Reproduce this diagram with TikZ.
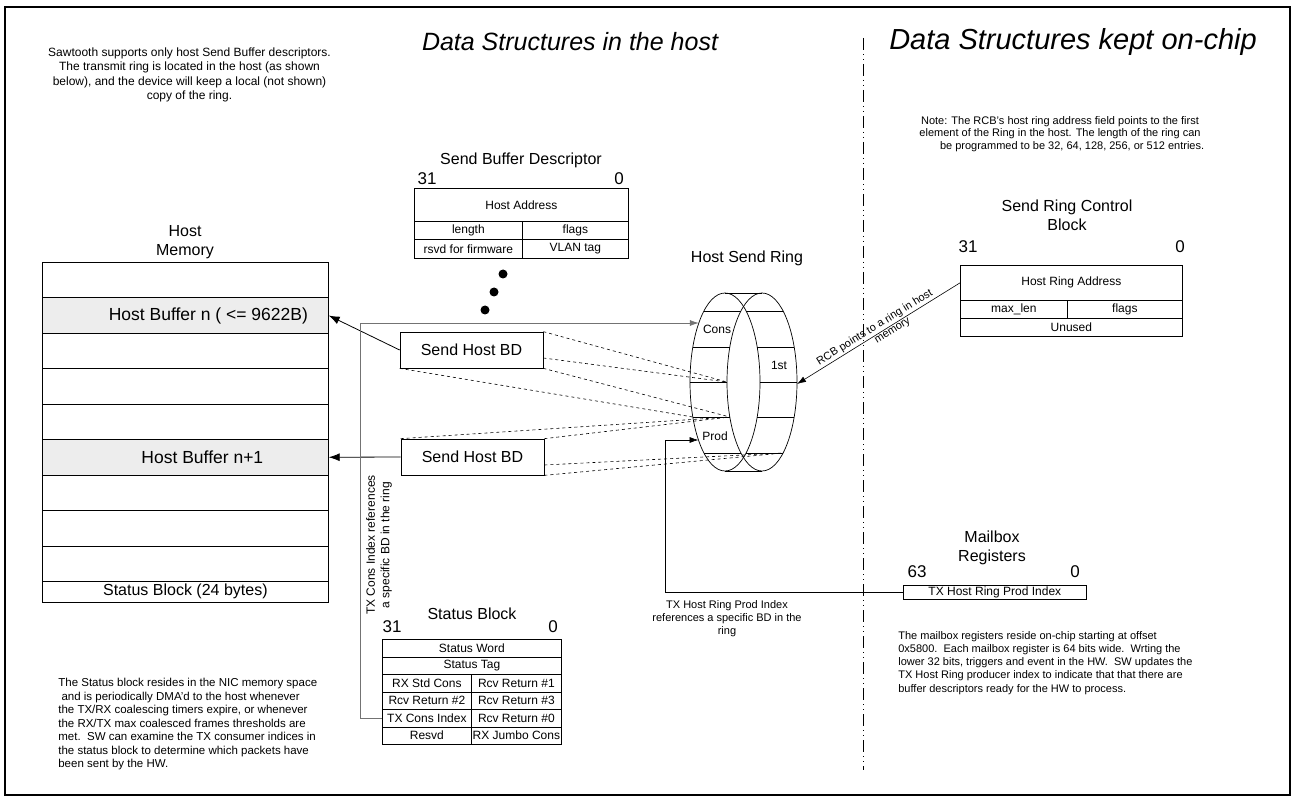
\documentclass[tikz,border=0pt]{standalone}
\usepackage{fontspec}
\setmainfont{Liberation Sans}
\usetikzlibrary{arrows.meta, calc}

\begin{document}
\begin{tikzpicture}[x=1pt, y=-1pt, line width=0.7pt,
    every node/.style={inner sep=0pt},
    notetext/.style={font=\fontsize{11.5}{13.5}\selectfont},
    headtext/.style={font=\fontsize{16}{19}\selectfont, align=center},
    bigtitle/.style={font=\fontsize{27}{30}\selectfont\itshape},
    bitnum/.style={font=\fontsize{17}{19}\selectfont},
    tabcell/.style={draw, anchor=north west, font=\fontsize{12}{14}\selectfont},
    memrow/.style={draw, anchor=north west, minimum width=286, minimum height=35.44},
    bdbox/.style={draw, minimum width=143, minimum height=36, font=\fontsize{16}{18}\selectfont},
    bdlink/.style={dashed, line width=0.6pt},
    toring/.style={-{Latex[length=9pt,width=6pt]}, line width=0.6pt},
    tobuf/.style={-{Latex[length=11pt,width=8pt]}, line width=0.8pt}]
  \useasboundingbox (0,0) rectangle (1296,802);
  \draw[line width=2pt] (5,7) rectangle (1290,795);

  % titles and the host / chip divider
  \node[bigtitle, font=\fontsize{25}{28}\selectfont\itshape] (hosttitle) at (570,42) {Data Structures in the host};
  \node[bigtitle, font=\fontsize{29}{32}\selectfont\itshape] (chiptitle) at (1073,42) {Data Structures kept on-chip};
  \draw[line width=0.6pt, dash pattern=on 12pt off 4pt on 1pt off 4pt on 1pt off 4pt] (863,38) -- (863,770);

  % notes
  \node[notetext, align=center, font=\fontsize{12}{14.5}\selectfont] (notesaw) at (189.5,75) {Sawtooth supports only host Send Buffer descriptors.\\The transmit ring is located in the host (as shown\\below), and the device will keep a local (not shown)\\copy of the ring.};
  \node[notetext, align=center, font=\fontsize{11}{12.5}\selectfont] (notercb) at (1060,134) {Note: The RCB's host ring address field points to the first\\element of the Ring in the host. The length of the ring can\\\hspace*{2.2em}be programmed to be 32, 64, 128, 256, or 512 entries.};
  \node[notetext, align=left, anchor=north west] (notestatus) at (58,678) {The Status block resides in the NIC memory space\\\ and is periodically DMA'd to the host whenever\\the TX/RX coalescing timers expire, or whenever\\the RX/TX max coalesced frames thresholds are\\met.\ \ SW can examine the TX consumer indices in\\the status block to determine which packets have\\been sent by the HW.};
  \node[notetext, align=left, anchor=north west, font=\fontsize{11}{13.2}\selectfont] (notemb) at (898,631) {The mailbox registers reside on-chip starting at offset\\0x5800.\ \ Each mailbox register is 64 bits wide.\ \ Wrting the\\lower 32 bits, triggers and event in the HW.\ \ SW updates the\\TX Host Ring producer index to indicate that that there are\\buffer descriptors ready for the HW to process.};
  \node[notetext, align=center, font=\fontsize{11}{13}\selectfont] (noteprod) at (727,619) {TX Host Ring Prod Index\\references a specific BD in the\\ring};

  % host memory
  \node[headtext] (memtitle) at (185,242) {Host\\Memory};
  \foreach \i/\f in {1/white,2/black!7,3/white,4/white,5/white,6/black!7,7/white,8/white,9/white}
    \node[memrow, fill=\f] (mem\i) at (42,{262+35.44*(\i-1)}) {};
  \node[memrow, minimum height=21, font=\fontsize{16}{18}\selectfont] (memstatus) at (42,581) {Status Block (24 bytes)};
  \node[font=\fontsize{17.5}{20}\selectfont, xshift=23pt] (bufn) at (mem2) {Host Buffer n ( <= 9622B)};
  \node[font=\fontsize{17.5}{20}\selectfont, xshift=17pt] (bufnext) at (mem6) {Host Buffer n+1};

  % send buffer descriptor
  \node[headtext] (sbdtitle) at (521,160) {Send Buffer Descriptor};
  \node[bitnum] (sbdhi) at (427,179) {31};
  \node[bitnum] (sbdlo) at (619,179) {0};
  \node[tabcell, minimum width=214, minimum height=33] (sbdaddr) at (414,188) {Host Address};
  \node[tabcell, minimum width=108, minimum height=18] (sbdlen) at (414,221) {length};
  \node[tabcell, minimum width=106, minimum height=18] (sbdflags) at (522,221) {flags};
  \node[tabcell, minimum width=108, minimum height=19] (sbdrsvd) at (414,239) {rsvd for firmware};
  \node[tabcell, minimum width=106, minimum height=19] (sbdvlan) at (522,239) {VLAN tag};
  \foreach \p in {(503,274),(494,292),(485,310)}
    \fill \p circle (4.5pt);

  % send host BDs
  \node[bdbox] (bd1) at (471.5,350) {Send Host BD};
  \node[bdbox] (bd2) at (472.5,457) {Send Host BD};
  \draw[tobuf] (bd1.west) -- (mem2.east);
  \draw[tobuf] (bd2.west) -- (mem6.east);

  % host send ring
  \node[headtext] (ringtitle) at (747,258) {Host Send Ring};
  \draw (725,382) ellipse [x radius=35pt, y radius=89pt];
  \draw (762,382) ellipse [x radius=35pt, y radius=89pt];
  \draw (725,293) -- (762,293);
  \draw (725,471) -- (762,471);
  \foreach \y in {311,347,382,417,453} {
    \pgfmathsetmacro\w{35*sqrt(1-((\y-382)/89)^2)}
    \coordinate (lo\y) at ({725-\w},\y);
    \coordinate (li\y) at ({762-\w},\y);
    \coordinate (ri\y) at ({725+\w},\y);
    \coordinate (ro\y) at ({762+\w},\y);
    \draw (lo\y) -- (li\y);
    \draw (ri\y) -- (ro\y);
  }
  \node[font=\fontsize{12}{14}\selectfont] (slotcons) at (717,329) {Cons};
  \node[font=\fontsize{12}{14}\selectfont] (slotfirst) at (779,365) {1st};
  \node[font=\fontsize{12}{14}\selectfont] (slotprod) at (715,436) {Prod};
  \coordinate (ringcons) at (698.8,323);
  \coordinate (ringprod) at (698.5,440);
  \coordinate (ringrcb) at (797,384);

  \draw[bdlink] (bd1.north east) -- (li382);
  \draw[bdlink] ([yshift=-8pt]bd1.east) -- (li382);
  \draw[bdlink] (bd1.south east) -- (li417);
  \draw[bdlink] (bd1.south west) -- (lo417);
  \draw[bdlink] (bd2.north west) -- (li417);
  \draw[bdlink] (bd2.north east) -- (li417);
  \draw[bdlink] ([yshift=-8pt]bd2.east) -- (ro453);
  \draw[bdlink] (bd2.south east) -- (ro453);

  % send ring control block
  \node[headtext] (rcbtitle) at (1067,215) {Send Ring Control\\Block};
  \node[bitnum] (rcbhi) at (968,247) {31};
  \node[bitnum] (rcblo) at (1180,247) {0};
  \node[tabcell, minimum width=222, minimum height=35] (rcbaddr) at (960,265) {Host Ring Address};
  \node[tabcell, minimum width=107, minimum height=18] (rcblen) at (960,300) {max\_len};
  \node[tabcell, minimum width=115, minimum height=18] (rcbflags) at (1067,300) {flags};
  \node[tabcell, minimum width=222, minimum height=18] (rcbunused) at (960,318) {Unused};
  \draw[toring] (rcbaddr.west) -- (ringrcb)
    node[pos=0.5, sloped, above=1.5pt, font=\fontsize{11}{13}\selectfont] (rcbnote) {RCB points to a ring in host}
    node[pos=0.43, sloped, below=1.5pt, font=\fontsize{11}{13}\selectfont] (rcbnotemem) {memory};

  % mailbox registers
  \node[headtext] (mbtitle) at (992,548) {Mailbox\\Registers};
  \node[bitnum] (mbhi) at (917,572) {63};
  \node[bitnum] (mblo) at (1075,572) {0};
  \node[tabcell, minimum width=183, minimum height=14] (mbprod) at (903,585) {TX Host Ring Prod Index};
  \coordinate (prodbend) at (665,440);
  \draw[toring] (mbprod.west) -| (prodbend) -- (ringprod);

  % status block
  \node[headtext] (sbtitle) at (472,614) {Status Block};
  \node[bitnum] (sbhi) at (392,627) {31};
  \node[bitnum] (sblo) at (553,627) {0};
  \node[tabcell, minimum width=179, minimum height=17.5] (sbword) at (382,639) {Status Word};
  \node[tabcell, minimum width=179, minimum height=17.5] (sbtag) at (382,656.5) {Status Tag};
  \foreach \lt/\rt [count=\k] in {{RX Std Cons}/{Rcv Return \#1},{Rcv Return \#2}/{Rcv Return \#3},{TX Cons Index}/{Rcv Return \#0},{Resvd}/{RX Jumbo Cons}} {
    \node[tabcell, minimum width=89, minimum height=17.5] (sbl\k) at (382,{639+17.5*(\k+1)}) {\lt};
    \node[tabcell, minimum width=90, minimum height=17.5] (sbr\k) at (471,{639+17.5*(\k+1)}) {\rt};
  }
  \node[notetext, rotate=90, align=center, font=\fontsize{12}{14.5}\selectfont] (consnote) at (379,545) {TX Cons Index references\\a specific BD in the ring};
  \draw[toring, black!55] (sbl3.west) -- ++(-22,0) |- (ringcons);
\end{tikzpicture}
\end{document}
